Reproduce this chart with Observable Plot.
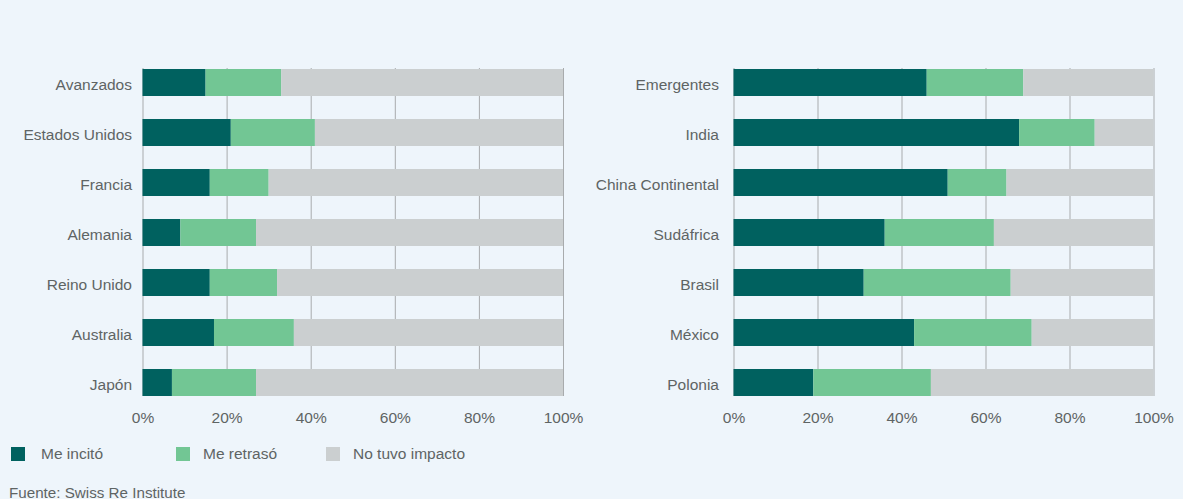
<!DOCTYPE html>
<html><head><meta charset="utf-8">
<script src="https://cdn.jsdelivr.net/npm/d3@7"></script>
<script src="https://cdn.jsdelivr.net/npm/@observablehq/plot@0.6"></script>
<style>
html,body{margin:0;padding:0;}
body{background:#eef5fb;width:1183px;height:499px;overflow:hidden;position:relative;font-family:"Liberation Sans",Arial,sans-serif;color:#5e6464;}
#left{position:absolute;left:0;top:0}
#right{position:absolute;left:590px;top:0}
.sw{position:absolute;width:14px;height:14px;top:447px}
.lt{position:absolute;top:446px;font-size:15.5px;line-height:16px;white-space:nowrap}
#caption{position:absolute;left:9px;top:485px;font-size:15.2px;line-height:16px;white-space:nowrap}
</style></head>
<body>
<div id="left"></div><div id="right"></div>
<div id="legend"></div>
<div id="caption">Fuente: Swiss Re Institute</div>
<script>
const series = ["Me incitó", "Me retrasó", "No tuvo impacto"];
const colors = ["#00615f", "#72c694", "#cbcfd0"];
const xTicks = [0, 20, 40, 60, 80, 100];

const advanced = ["Avanzados", "Estados Unidos", "Francia", "Alemania", "Reino Unido", "Australia", "Japón"];
const advIncito = [15, 21, 16, 9, 16, 17, 7];
const advRetraso = [18, 20, 14, 18, 16, 19, 20];
const advSinImpacto = [67, 59, 70, 73, 68, 64, 73];

const emerging = ["Emergentes", "India", "China Continental", "Sudáfrica", "Brasil", "México", "Polonia"];
const emIncito = [46, 68, 51, 36, 31, 43, 19];
const emRetraso = [23, 18, 14, 26, 35, 28, 28];
const emSinImpacto = [31, 14, 35, 38, 34, 29, 53];

function chart(cats, vals, o) {
  const data = [];
  cats.forEach((c, i) => series.forEach((s, j) => data.push({cat: c, serie: s, value: vals[j][i]})));
  return Plot.plot({
    width: o.width, height: 440,
    marginTop: 68, marginBottom: 44, marginLeft: o.ml, marginRight: o.mr,
    style: {background: "transparent", fontSize: "15.5px", fontFamily: "'Liberation Sans', Arial, sans-serif", color: "#5e6464", overflow: "visible"},
    x: {domain: [0, 100]},
    y: {domain: cats, paddingInner: 0.46, paddingOuter: 0},
    color: {domain: series, range: colors},
    marks: [
      Plot.ruleX(xTicks, {stroke: "#a8abad", strokeWidth: 1}),
      Plot.barX(data, Plot.stackX({x: "value", y: "cat", fill: "serie", order: series})),
      Plot.axisX({ticks: xTicks, tickFormat: d => d + "%", tickSize: 0, tickPadding: 15, label: null, fill: "#5e6464"}),
      Plot.axisY({tickSize: 0, tickPadding: o.tp, label: null, fill: "#5e6464", dy: 2})
    ]
  });
}

document.getElementById("left").append(chart(advanced, [advIncito, advRetraso, advSinImpacto], {width: 590, ml: 142.5, mr: 27, tp: 11}));
document.getElementById("right").append(chart(emerging, [emIncito, emRetraso, emSinImpacto], {width: 593, ml: 143.5, mr: 29.5, tp: 15}));

const legend = document.getElementById("legend");
const swX = [11, 176, 326], txX = [41, 203, 353];
series.forEach((s, i) => {
  const sw = document.createElement("div"); sw.className = "sw"; sw.style.left = swX[i] + "px"; sw.style.background = colors[i]; legend.append(sw);
  const t = document.createElement("div"); t.className = "lt"; t.style.left = txX[i] + "px"; t.textContent = s; legend.append(t);
});
</script>
</body></html>
